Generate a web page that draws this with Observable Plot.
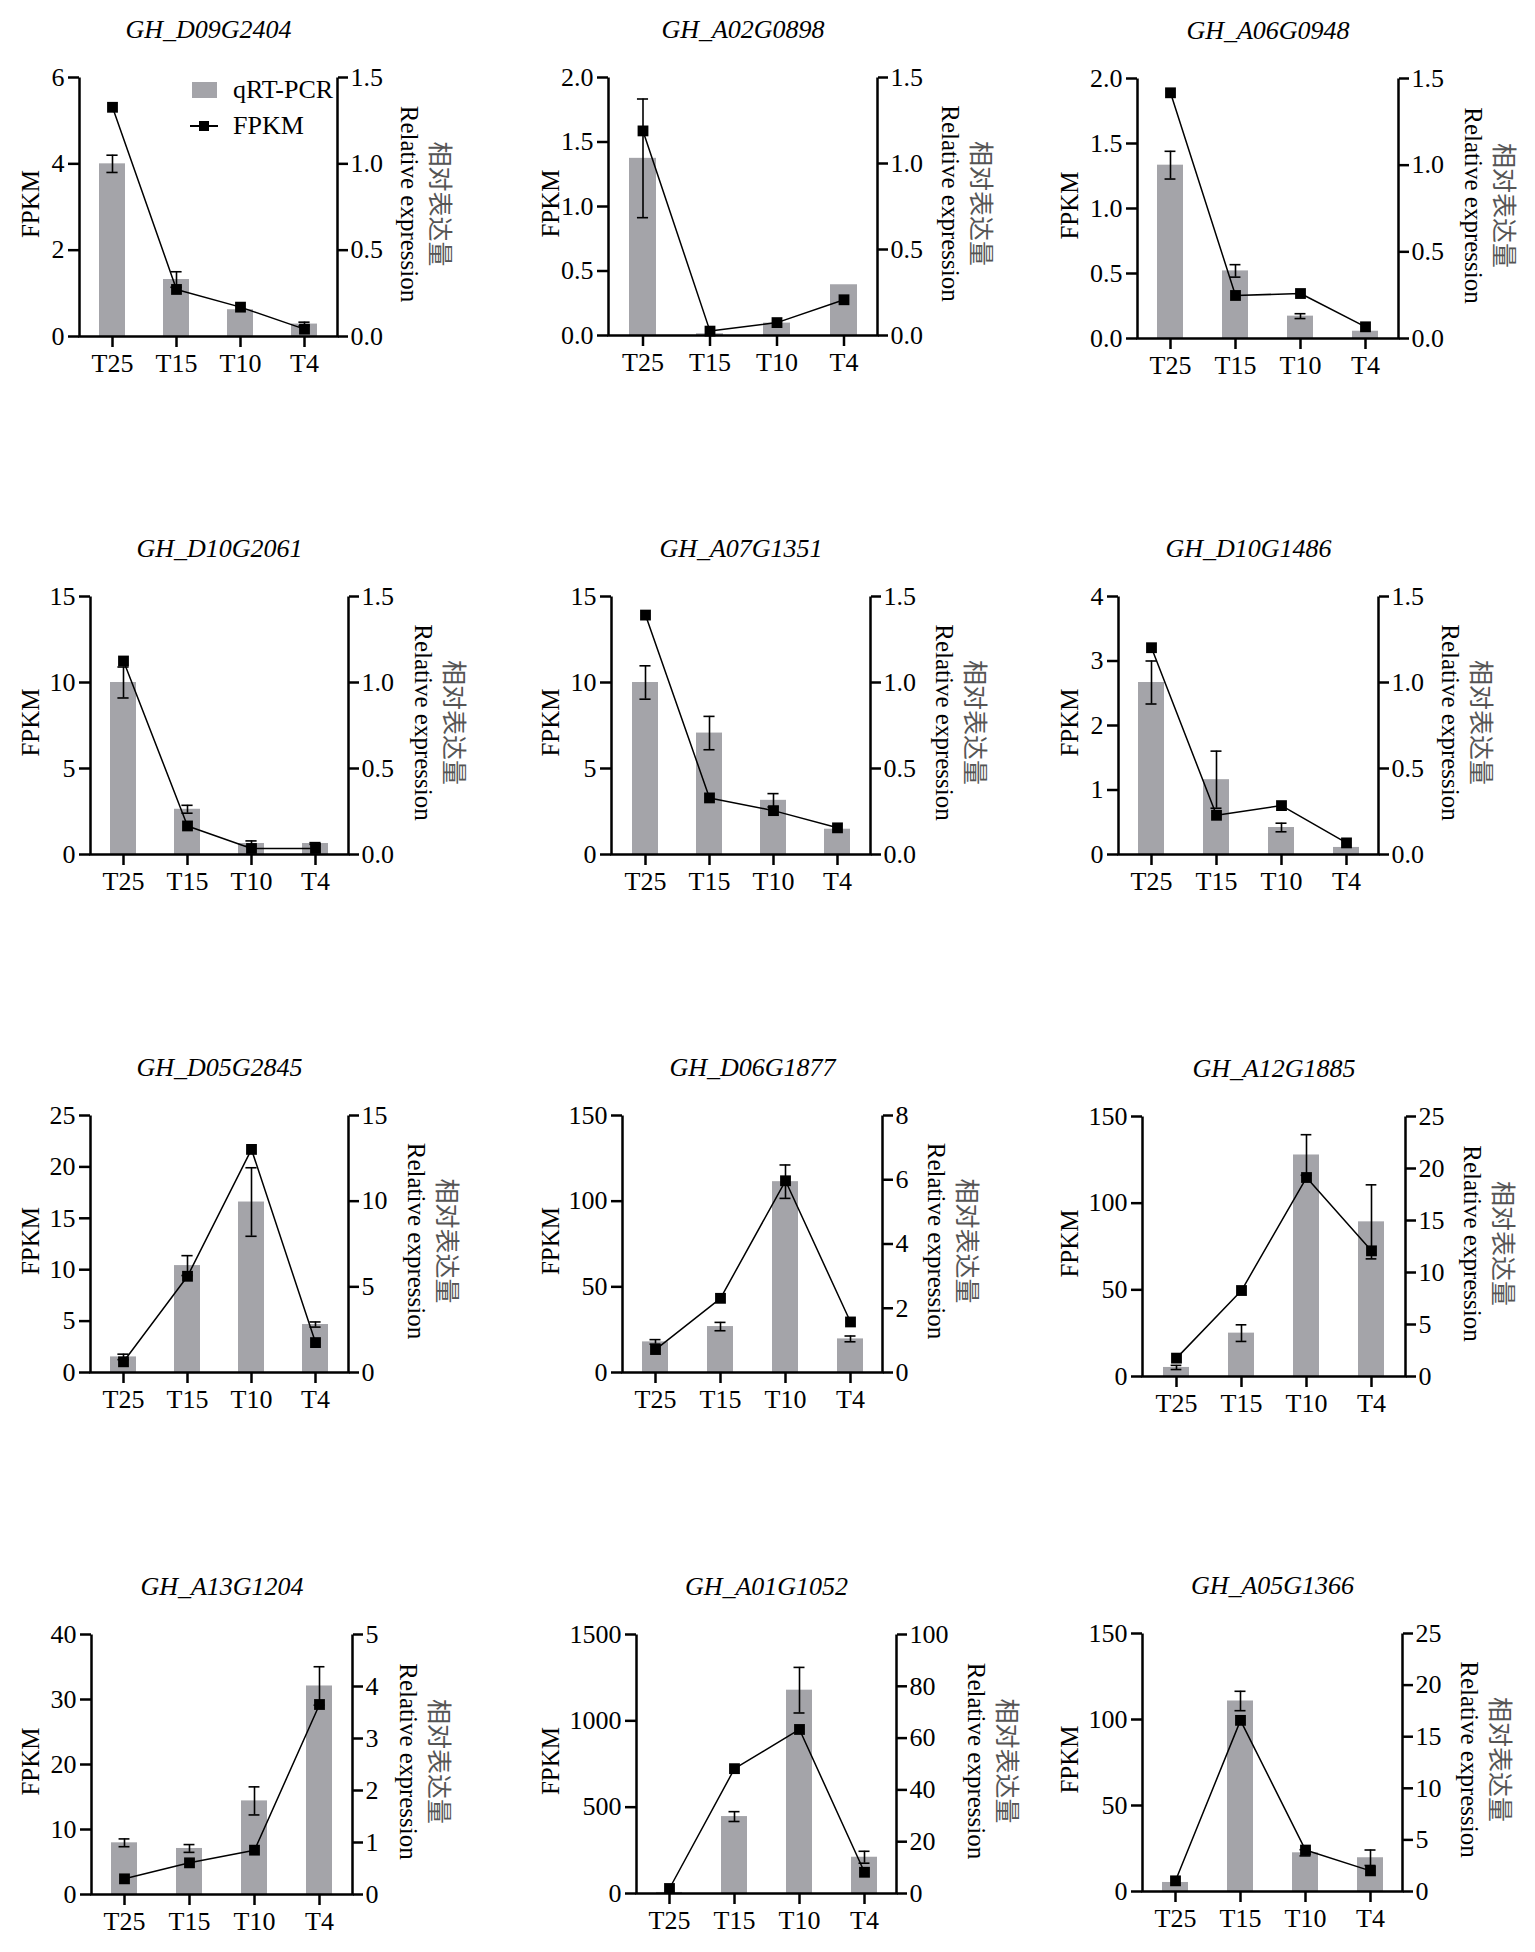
<!DOCTYPE html>
<html><head><meta charset="utf-8">
<script src="https://cdn.jsdelivr.net/npm/d3@7"></script>
<script src="https://cdn.jsdelivr.net/npm/@observablehq/plot@0.6"></script>
<style>
html,body{margin:0;padding:0;background:#fff;overflow:hidden}
#chart{position:relative;width:1535px;height:1952px;overflow:hidden;font-family:"Liberation Serif","Times New Roman",serif;background:#fff}
.panel{position:absolute}
.panel svg{position:absolute;left:0;top:0}
.lg{position:absolute;font-size:26px;line-height:26px;color:#000;white-space:nowrap}
</style></head><body><div id="chart"></div>
<script>
// ---------------- data ----------------
const genes = ["GH_D09G2404","GH_A02G0898","GH_A06G0948","GH_D10G2061","GH_A07G1351","GH_D10G1486",
               "GH_D05G2845","GH_D06G1877","GH_A12G1885","GH_A13G1204","GH_A01G1052","GH_A05G1366"];
const timepoints = ["T25","T15","T10","T4"];
// FPKM (line, left axis)
const fpkmValues = [
  [5.31, 1.09, 0.68, 0.17],
  [1.586, 0.034, 0.10, 0.277],
  [1.89, 0.331, 0.346, 0.09],
  [11.25, 1.66, 0.35, 0.35],
  [13.92, 3.29, 2.55, 1.55],
  [3.206, 0.608, 0.758, 0.18],
  [1.04, 9.36, 21.7, 2.91],
  [13.4, 43.3, 111.9, 29.5],
  [10.6, 49.6, 114.8, 72.5],
  [2.41, 4.87, 6.82, 29.23],
  [29, 723, 950, 123],
  [6.2, 99.5, 24.1, 12.0]
];
// qRT-PCR relative expression (bars, right axis)
const qpcrValues = [
  [1.0, 0.33, 0.155, 0.072],
  [1.03, 0.01, 0.072, 0.295],
  [1.0, 0.39, 0.129, 0.042],
  [1.0, 0.263, 0.064, 0.064],
  [1.0, 0.706, 0.315, 0.147],
  [1.0, 0.435, 0.157, 0.041],
  [0.91, 6.24, 9.95, 2.80],
  [0.953, 1.43, 5.94, 1.046],
  [0.87, 4.17, 21.3, 14.87],
  [0.994, 0.885, 1.80, 4.01],
  [0.4, 29.7, 78.5, 14.0],
  [0.875, 18.46, 3.75, 3.27]
];
const qpcrErrors = [
  [0.05, 0.045, 0, 0.011],
  [0.345, 0, 0, 0],
  [0.08, 0.036, 0.014, 0],
  [0.09, 0.023, 0.015, 0.005],
  [0.097, 0.097, 0.039, 0],
  [0.125, 0.166, 0.025, 0],
  [0.16, 0.58, 2.0, 0.15],
  [0.07, 0.13, 0.52, 0.09],
  [0.2, 0.8, 1.95, 3.56],
  [0.075, 0.075, 0.27, 0.37],
  [0, 1.9, 8.8, 2.3],
  [0, 0.94, 0.3, 0.75]
];
const fpkmTicks = [
  [0,2,4,6],[0,0.5,1,1.5,2],[0,0.5,1,1.5,2],[0,5,10,15],[0,5,10,15],[0,1,2,3,4],
  [0,5,10,15,20,25],[0,50,100,150],[0,50,100,150],[0,10,20,30,40],[0,500,1000,1500],[0,50,100,150]
];
const relTicks = [
  [0,0.5,1,1.5],[0,0.5,1,1.5],[0,0.5,1,1.5],[0,0.5,1,1.5],[0,0.5,1,1.5],[0,0.5,1,1.5],
  [0,5,10,15],[0,2,4,6,8],[0,5,10,15,20,25],[0,1,2,3,4,5],[0,20,40,60,80,100],[0,5,10,15,20,25]
];
const legendLabels = ["qRT-PCR","FPKM"];
const leftLabel = "FPKM";
const rightLabelCn = "相对表达量";
const rightLabelEn = "Relative expression";

// ---------------- layout ----------------
const frames = [ // [left, right, top, bottom] of each plotting frame, px
  [79,337,77,336],[608,877,77,335],[1137,1398,78,338],
  [90,348,596,854],[611,870,596,854],[1118,1378,596,854],
  [90,348,1115,1372],[622,882,1115,1372],[1142,1405,1116,1376],
  [91,352,1634,1894],[636,896,1634,1893],[1142,1402,1633,1891]
];
const leftLabelX = [30,550,1069];
const rightLabelGap = [71,72,74,74,73,71,67,53,66,55,79,66];
const mL = 110, mR = 145, mT = 70, mB = 50;
const BAR = "#a4a4a9";
const FONT = '"Liberation Serif","Times New Roman",serif';
const CJK = '"Liberation Serif","Noto Sans CJK SC",serif';
const AXW = 2.5;

const chart = document.getElementById("chart");

genes.forEach((gene, i) => {
  const [x0, x1, y0, y1] = frames[i];
  const W = x1 - x0, H = y1 - y0;
  const width = mL + W + mR, height = mT + H + mB;
  const rows = timepoints.map((t, j) => ({t, f: fpkmValues[i][j], q: qpcrValues[i][j], e: qpcrErrors[i][j]}));
  const errRows = rows.filter(d => d.e > 0);
  const fmtOf = ticks => ticks.some(v => !Number.isInteger(v)) ? d3.format(".1f") : d3.format("d");
  const xScale = {type: "band", domain: timepoints, paddingInner: 0.6, paddingOuter: 0.3};
  const cap = Math.max(0, (W / 4 * 0.4 - 11) / 2);
  const style = {background: "transparent", overflow: "visible", maxWidth: "none", fontFamily: FONT, fontSize: "26px", color: "#000"};
  const common = {width, height, marginLeft: mL, marginRight: mR, marginTop: mT, marginBottom: mB, style};
  const cy = (H / 2) - 3;

  const barPlot = Plot.plot({
    ...common,
    x: {...xScale, axis: null},
    y: {domain: [0, relTicks[i][relTicks[i].length - 1]], axis: null},
    marks: [
      Plot.barY(rows, {x: "t", y: "q", fill: BAR}),
      Plot.ruleX(errRows, {x: "t", y1: d => d.q - d.e, y2: d => d.q + d.e, stroke: "#000", strokeWidth: 1.6}),
      Plot.tickY(errRows, {x: "t", y: d => d.q + d.e, stroke: "#000", strokeWidth: 1.6, insetLeft: cap, insetRight: cap}),
      Plot.tickY(errRows, {x: "t", y: d => d.q - d.e, stroke: "#000", strokeWidth: 1.6, insetLeft: cap, insetRight: cap}),
      Plot.axisY({anchor: "right", ticks: relTicks[i], tickFormat: fmtOf(relTicks[i]), tickSize: 10, tickPadding: 3, strokeWidth: AXW, label: null}),
      Plot.text([rightLabelEn], {text: d => d, frameAnchor: "top-right", dy: cy, rotate: 90, dx: rightLabelGap[i], textAnchor: "middle", lineAnchor: "middle", fontSize: 25, fill: "#000"}),
      Plot.text([rightLabelCn], {text: d => d, frameAnchor: "top-right", dy: cy, rotate: 90, dx: rightLabelGap[i] + 30, textAnchor: "middle", lineAnchor: "middle", fontSize: 25, fill: "#555", fontFamily: CJK})
    ]
  });

  const linePlot = Plot.plot({
    ...common,
    x: {...xScale, axis: null},
    y: {domain: [0, fpkmTicks[i][fpkmTicks[i].length - 1]], axis: null},
    marks: [
      Plot.frame({stroke: "#000", strokeWidth: AXW, strokeDasharray: `0 ${W} ${W + 2 * H}`}),
      Plot.axisX({anchor: "bottom", tickSize: 11, tickPadding: 6, strokeWidth: AXW, label: null}),
      Plot.axisY({anchor: "left", ticks: fpkmTicks[i], tickFormat: fmtOf(fpkmTicks[i]), tickSize: 11, tickPadding: 4, strokeWidth: AXW, label: null}),
      Plot.line(rows, {x: "t", y: "f", stroke: "#000", strokeWidth: 1.5}),
      Plot.dot(rows, {x: "t", y: "f", symbol: "square", r: 6.1, fill: "#000", stroke: "none"}),
      Plot.text([gene], {text: d => d, frameAnchor: "top", dy: -48, textAnchor: "middle", lineAnchor: "middle", fontSize: 26, fontStyle: "italic", fill: "#000"}),
      Plot.text([leftLabel], {text: d => d, frameAnchor: "top-left", dy: cy, rotate: -90, dx: -(x0 - leftLabelX[i % 3]), textAnchor: "middle", lineAnchor: "middle", fontSize: 25, fill: "#000"})
    ]
  });

  const div = document.createElement("div");
  div.className = "panel";
  div.style.left = (x0 - mL) + "px";
  div.style.top = (y0 - mT) + "px";
  div.style.width = width + "px";
  div.style.height = height + "px";
  div.appendChild(barPlot);
  div.appendChild(linePlot);
  chart.appendChild(div);
});

// legend (first panel)
function addEl(css, text) {
  const el = document.createElement("div");
  el.className = "lg";
  Object.assign(el.style, css);
  if (text) el.textContent = text;
  chart.appendChild(el);
  return el;
}
addEl({left: "192px", top: "82px", width: "25px", height: "16px", background: BAR});
addEl({left: "233px", top: "77px"}, legendLabels[0]);
addEl({left: "190px", top: "125px", width: "28px", height: "1.5px", background: "#000"});
addEl({left: "199px", top: "121px", width: "10px", height: "10px", background: "#000"});
addEl({left: "233px", top: "113px"}, legendLabels[1]);
</script></body></html>
